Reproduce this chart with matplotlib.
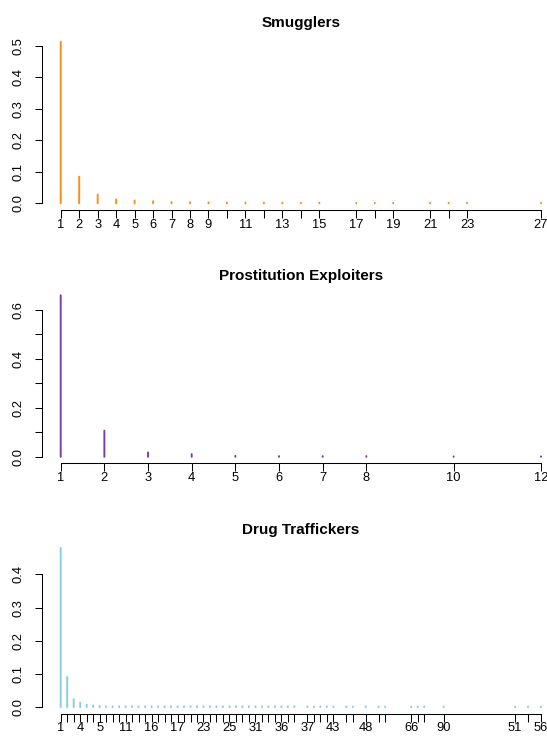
import numpy as np
import matplotlib
matplotlib.use("Agg")
import matplotlib.pyplot as plt

plt.rcParams['font.family'] = ['Liberation Sans', 'DejaVu Sans']

# Smugglers
smug_x = [1, 2, 3, 4, 5, 6, 7, 8, 9, 10, 11, 12, 13, 14, 15, 17, 18, 19, 21, 22, 23, 27]
smug_y = [0.513, 0.0845, 0.028, 0.0124, 0.009, 0.0067, 0.004, 0.0035, 0.003, 0.0028, 0.0028,
          0.0025, 0.0025, 0.002, 0.002, 0.0015, 0.0015, 0.0015, 0.0015, 0.0015, 0.0015, 0.0015]
smug_label_pos = [1, 2, 3, 4, 5, 6, 7, 8, 9, 11, 13, 15, 17, 19, 21, 23, 27]
smug_labels = [str(v) for v in smug_label_pos]
smug_yticks = [0.0, 0.1, 0.2, 0.3, 0.4, 0.5]
smug_ylabels = ["0.0", "0.1", "0.2", "0.3", "0.4", "0.5"]

# Prostitution Exploiters
prost_x = [1, 2, 3, 4, 5, 6, 7, 8, 10, 12]
prost_y = [0.66, 0.107, 0.018, 0.011, 0.004, 0.003, 0.003, 0.003, 0.002, 0.002]
prost_label_pos = [1, 2, 3, 4, 5, 6, 7, 8, 10, 12]
prost_labels = [str(v) for v in prost_label_pos]
prost_yticks = [0.0, 0.1, 0.2, 0.3, 0.4, 0.5, 0.6]
prost_ylabels = ["0.0", "", "0.2", "", "0.4", "", "0.6"]

# Drug Traffickers
drug_x = list(range(1, 38)) + [39, 40, 41, 42, 43, 45, 46, 48, 50, 51, 55, 56, 57, 60, 71, 73, 75]
drug_y = [0.48, 0.091, 0.024, 0.0137, 0.0074, 0.005, 0.004] + [0.0025] * 30 + [0.002] * 17
drug_label_pos = [1, 4, 7, 11, 15, 19, 23, 27, 31, 35, 39, 43, 48, 55, 60, 71, 75]
drug_labels = ["1", "4", "5", "11", "16", "17", "23", "25", "31", "36", "37", "43", "48",
               "66", "90", "51", "56"]
drug_yticks = [0.0, 0.1, 0.2, 0.3, 0.4]
drug_ylabels = ["0.0", "0.1", "0.2", "0.3", "0.4"]

panels = [
    ("Smugglers", smug_x, smug_y, smug_label_pos, smug_labels, smug_yticks, smug_ylabels, "#FF8C1A"),
    ("Prostitution Exploiters", prost_x, prost_y, prost_label_pos, prost_labels, prost_yticks,
     prost_ylabels, "#7D3FA6"),
    ("Drug Traffickers", drug_x, drug_y, drug_label_pos, drug_labels, drug_yticks, drug_ylabels,
     "#87CEEB"),
]

W, H = 547, 736
fig = plt.figure(figsize=(W / 100, H / 100), dpi=100)

left_px, width_px = 41.5, 518.7
tops = [35.3, 288.8, 541.5]
heights = [174.5, 174.5, 172.0]
title_px = [23.0, 276.5, 530.0]

for k, (title, x, y, lpos, labs, yt, ylab, col) in enumerate(panels):
    top_px, height_px = tops[k], heights[k]
    ax = fig.add_axes([left_px / W, 1 - (top_px + height_px) / H, width_px / W, height_px / H])
    lc = ax.vlines(x, 0, y, colors=col, linewidth=1.4, capstyle='round')
    lc.set_snap(False)

    xr = max(x) - min(x)
    ax.set_xlim(min(x) - 0.04 * xr, max(x) + 0.04 * xr)
    ymax = max(y)
    ax.set_ylim(-0.04 * ymax, ymax * 1.04)

    for s in ['top', 'right']:
        ax.spines[s].set_visible(False)
    ax.spines['left'].set_bounds(yt[0], yt[-1])
    ax.spines['bottom'].set_bounds(min(x), max(x))
    for s in ['left', 'bottom']:
        ax.spines[s].set_linewidth(0.75)

    ax.set_xticks(x)
    tick_labels = [labs[lpos.index(v)] if v in lpos else "" for v in x]
    ax.set_xticklabels(tick_labels)
    ax.set_yticks(yt)
    ax.set_yticklabels(ylab, rotation=90, va='center')

    ax.tick_params(axis='x', length=5.4, width=0.75, pad=1.0, labelsize=9.3)
    ax.tick_params(axis='y', length=5.4, width=0.75, pad=7.0, labelsize=9.3)

    ax.set_title(title, fontsize=11, fontweight='bold', pad=0, va='center',
                 y=1 + (top_px - title_px[k]) / height_px)

fig.savefig("out.png", dpi=100)
